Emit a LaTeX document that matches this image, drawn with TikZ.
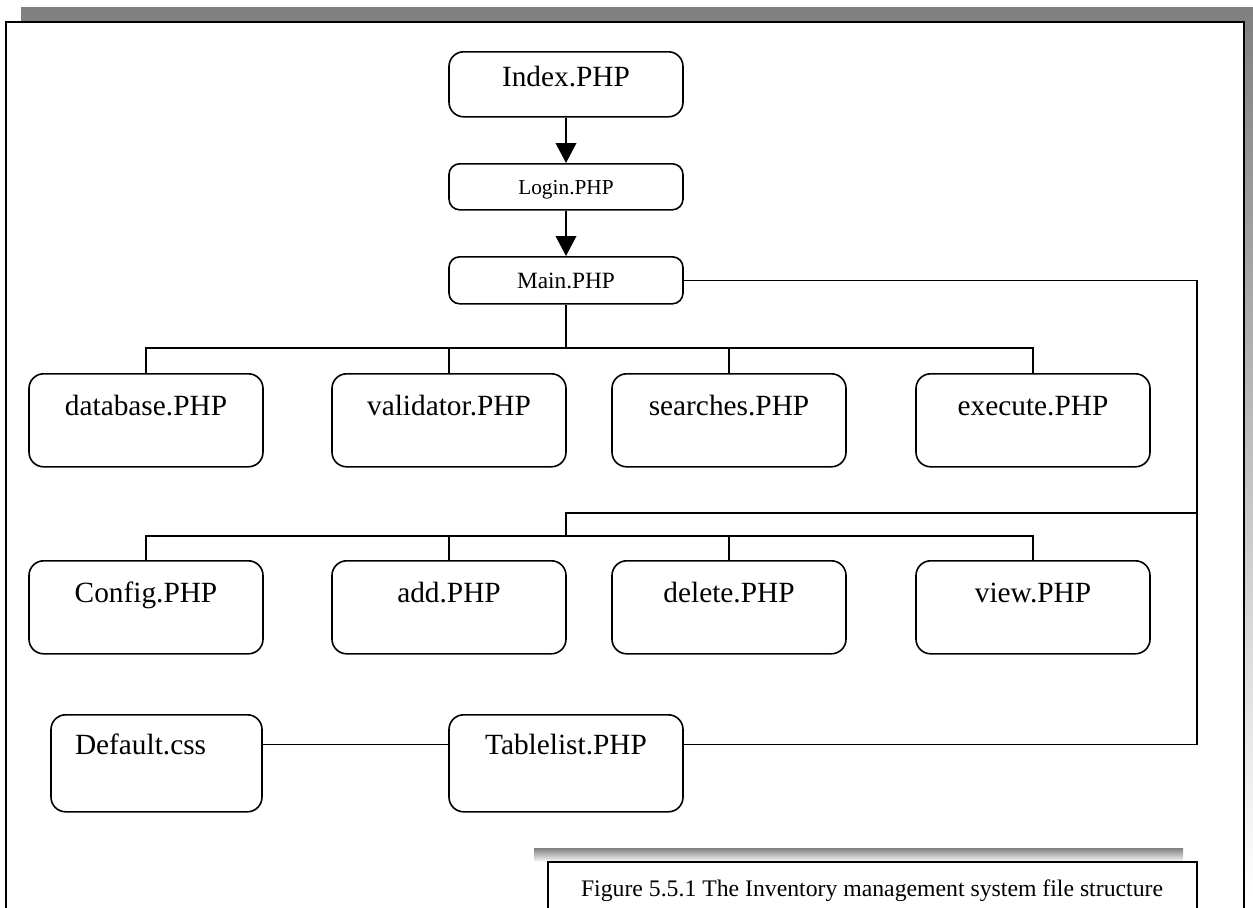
\documentclass[tikz,border=0pt]{standalone}
\usepackage{fontspec}
\setmainfont{Liberation Serif}
\usetikzlibrary{arrows.meta}
\definecolor{shade}{HTML}{808080}
\begin{document}
\begin{tikzpicture}[x=0.75pt,y=-0.75pt,
  filebox/.style={draw,line width=1.2pt,rounded corners=11pt,fill=white,
    inner xsep=0pt,inner ysep=0pt,minimum width=175.5pt},
  bigtext/.style={font=\fontsize{22}{24}\selectfont},
  rowbox/.style={filebox,bigtext,anchor=north,text height=31.5pt,text depth=38.25pt},
  wire/.style={line width=1.1pt},
  flow/.style={wire,-{Triangle[length=15pt,width=15.5pt]}}]
\clip (0,0) rectangle (1253,907);

% page frame with its grey shadow
\fill[shade] (21,7) rectangle (1253,897);
\draw[line width=1.5pt,fill=white] (6,22) rectangle (1244,940);

% entry chain
\node[filebox,bigtext,anchor=north,text height=26.25pt,text depth=22.5pt] (idx) at (566,51) {Index.PHP};
\node[filebox,anchor=north,rounded corners=8pt,font=\fontsize{16}{18}\selectfont,
      text height=23.25pt,text depth=11.25pt] (login) at (566,163) {Login.PHP};
\node[filebox,anchor=north,rounded corners=8pt,font=\fontsize{17.5}{19}\selectfont,
      text height=24pt,text depth=11.25pt] (main) at (566,256) {Main.PHP};

\draw[flow] (idx.south) -- (login.north);
\draw[flow] (login.south) -- (main.north);

% first row of pages
\node[rowbox] (db)  at (146,373)  {database.PHP};
\node[rowbox] (val) at (449,373)  {validator.PHP};
\node[rowbox] (srch) at (729,373) {searches.PHP};
\node[rowbox] (exe) at (1033,373) {execute.PHP};

% second row of pages
\node[rowbox] (cfg) at (146,560)  {Config.PHP};
\node[rowbox] (add) at (449,560)  {add.PHP};
\node[rowbox] (del) at (729,560)  {delete.PHP};
\node[rowbox] (view) at (1033,560) {view.PHP};

% stylesheet and table list
\node[filebox,bigtext,anchor=north,minimum width=158.25pt,text width=122.25pt,
      inner xsep=18pt,align=left,text height=30pt,text depth=42.75pt] (css) at (156.5,714) {Default.css};
\node[filebox,bigtext,anchor=north,text height=30pt,text depth=42.75pt] (tab) at (566,714) {Tablelist.PHP};

% bus under Main.PHP
\coordinate (bus1) at (566,348);
\draw[wire] (main.south) -- (bus1);
\draw[wire] (db.north) |- (bus1) -| (exe.north);
\draw[wire] (val.north) -- (val.north |- bus1);
\draw[wire] (srch.north) -- (srch.north |- bus1);

% rail on the right
\coordinate (rail) at (1197,0);
\coordinate (tap) at (1197,513);
\coordinate (bus2) at (566,536);
\draw[wire] (main.east) -- (main.east -| rail) -- ([yshift=14pt]tab.east -| rail) -- ([yshift=14pt]tab.east);
\draw[wire] (tap) -| (bus2);
\draw[wire] (cfg.north) |- (bus2) -| (view.north);
\draw[wire] (add.north) -- (add.north |- bus2);
\draw[wire] (del.north) -- (del.north |- bus2);

\draw[wire] ([yshift=14pt]css.east) -- ([yshift=14pt]tab.west);

% caption box
\fill[shade] (534,848) rectangle (1183,862);
\draw[line width=1.1pt,fill=white] (548,862) rectangle (1197,940);
\node[anchor=base,font=\fontsize{17.8}{20}\selectfont] (cap) at (872,896)
  {Figure 5.5.1 The Inventory management system file structure};
\end{tikzpicture}
\end{document}
